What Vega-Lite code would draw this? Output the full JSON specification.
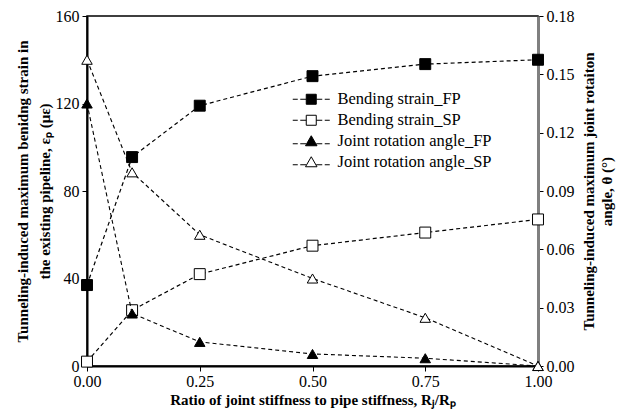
{
  "$schema": "https://vega.github.io/schema/vega-lite/v6.json",
  "width": 451,
  "height": 350,
  "autosize": "none",
  "padding": {"left": 87, "top": 16, "right": 84, "bottom": 48},
  "config": {
    "view": {"stroke": "black", "strokeWidth": 1.5},
    "font": "Liberation Serif",
    "axis": {
      "grid": false,
      "domainColor": "black",
      "domainWidth": 2,
      "tickColor": "black",
      "tickSize": 5,
      "labelFont": "Liberation Serif",
      "labelFontSize": 16,
      "labelColor": "black",
      "labelFlush": false,
      "titleFont": "Liberation Serif",
      "titleFontWeight": "bold",
      "titleFontSize": 15,
      "titleColor": "black"
    },
    "legend": {"labelFont": "Liberation Serif", "labelFontSize": 16.5, "labelColor": "black"}
  },
  "data": {
    "values": [
      {"x": 0, "series": "Bending strain_FP", "v": 37},
      {"x": 0.1, "series": "Bending strain_FP", "v": 95.5},
      {"x": 0.25, "series": "Bending strain_FP", "v": 119},
      {"x": 0.5, "series": "Bending strain_FP", "v": 132.5},
      {"x": 0.75, "series": "Bending strain_FP", "v": 138},
      {"x": 1, "series": "Bending strain_FP", "v": 140},
      {"x": 0, "series": "Bending strain_SP", "v": 2},
      {"x": 0.1, "series": "Bending strain_SP", "v": 25.5},
      {"x": 0.25, "series": "Bending strain_SP", "v": 42},
      {"x": 0.5, "series": "Bending strain_SP", "v": 55},
      {"x": 0.75, "series": "Bending strain_SP", "v": 61},
      {"x": 1, "series": "Bending strain_SP", "v": 67},
      {"x": 0, "series": "Joint rotation angle_FP", "v": 0.135},
      {"x": 0.1, "series": "Joint rotation angle_FP", "v": 0.027},
      {"x": 0.25, "series": "Joint rotation angle_FP", "v": 0.0124},
      {"x": 0.5, "series": "Joint rotation angle_FP", "v": 0.0062},
      {"x": 0.75, "series": "Joint rotation angle_FP", "v": 0.004},
      {"x": 1, "series": "Joint rotation angle_FP", "v": 0},
      {"x": 0, "series": "Joint rotation angle_SP", "v": 0.1575},
      {"x": 0.1, "series": "Joint rotation angle_SP", "v": 0.0996},
      {"x": 0.25, "series": "Joint rotation angle_SP", "v": 0.0675},
      {"x": 0.5, "series": "Joint rotation angle_SP", "v": 0.045},
      {"x": 0.75, "series": "Joint rotation angle_SP", "v": 0.0248},
      {"x": 1, "series": "Joint rotation angle_SP", "v": 0}
    ]
  },
  "encoding": {
    "x": {
      "field": "x",
      "type": "quantitative",
      "scale": {"domain": [0, 1], "nice": false},
      "axis": {
        "values": [0, 0.25, 0.5, 0.75, 1],
        "format": ".2f",
        "title": "Ratio of joint stiffness to pipe stiffness, Rⱼ/Rₚ",
        "titlePadding": 3,
        "labelPadding": 2
      }
    }
  },
  "layer": [
    {
      "transform": [{"filter": "indexof(datum.series, 'Bending') == 0"}],
      "encoding": {
        "y": {
          "field": "v",
          "type": "quantitative",
          "scale": {"domain": [0, 160], "nice": false},
          "axis": {
            "values": [0, 40, 80, 120, 160],
            "orient": "left",
            "title": ["Tunneling-induced maximum benidng strain in", "the existing pipeline, εₚ (με)"],
            "titlePadding": 3,
            "titleLineHeight": 22,
            "labelPadding": 3
          }
        }
      },
      "layer": [
        {
          "mark": {"type": "line", "color": "black", "strokeWidth": 1.2, "strokeDash": [4, 3]},
          "encoding": {"detail": {"field": "series"}}
        },
        {
          "mark": {"type": "point", "shape": "square", "filled": true, "stroke": "black", "strokeWidth": 1, "opacity": 1, "size": 120},
          "encoding": {
            "fill": {
              "field": "series",
              "type": "nominal",
              "scale": {"domain": ["Bending strain_FP", "Bending strain_SP"], "range": ["black", "white"]},
              "legend": {
                "title": null,
                "orient": "none",
                "legendX": 216,
                "legendY": 75,
                "symbolSize": 100,
                "symbolType": "M-3.7,0H-2.7M-2.2,0H-1M1,0H2.2M2.7,0H3.7M-1,-1H1V1H-1Z",
                "symbolStrokeColor": "black",
                "symbolStrokeWidth": 1,
                "symbolOpacity": 1,
                "rowPadding": 4,
                "labelOffset": 18
              }
            }
          }
        }
      ]
    },
    {
      "transform": [{"filter": "indexof(datum.series, 'Joint') == 0"}],
      "encoding": {
        "y": {
          "field": "v",
          "type": "quantitative",
          "scale": {"domain": [0, 0.18], "nice": false},
          "axis": {
            "values": [0, 0.03, 0.06, 0.09, 0.12, 0.15, 0.18],
            "format": ".2f",
            "orient": "right",
            "domainColor": "#808080",
            "domainWidth": 3,
            "title": ["Tunneling-induced maximum joint rotaiton", "angle, θ (°)"],
            "titleAngle": 270,
            "titlePadding": 4,
            "titleLineHeight": 18,
            "labelPadding": 3
          }
        }
      },
      "layer": [
        {
          "mark": {"type": "line", "color": "black", "strokeWidth": 1.1, "strokeDash": [4, 3]},
          "encoding": {"detail": {"field": "series"}}
        },
        {
          "mark": {"type": "point", "shape": "triangle-up", "filled": true, "stroke": "black", "strokeWidth": 1, "opacity": 1, "size": 110},
          "encoding": {
            "fill": {
              "field": "series",
              "type": "nominal",
              "scale": {"domain": ["Joint rotation angle_FP", "Joint rotation angle_SP"], "range": ["black", "white"]},
              "legend": {
                "title": null,
                "orient": "none",
                "legendX": 216,
                "legendY": 117,
                "symbolSize": 100,
                "symbolType": "M-3.7,0.5H-2.7M-2.2,0.5H-1M1,0.5H2.2M2.7,0.5H3.7M0,-1.1L1.15,0.9H-1.15Z",
                "symbolStrokeColor": "black",
                "symbolStrokeWidth": 1,
                "symbolOpacity": 1,
                "rowPadding": 4,
                "labelOffset": 18
              }
            }
          }
        }
      ]
    }
  ],
  "resolve": {"scale": {"y": "independent", "fill": "independent"}}
}
